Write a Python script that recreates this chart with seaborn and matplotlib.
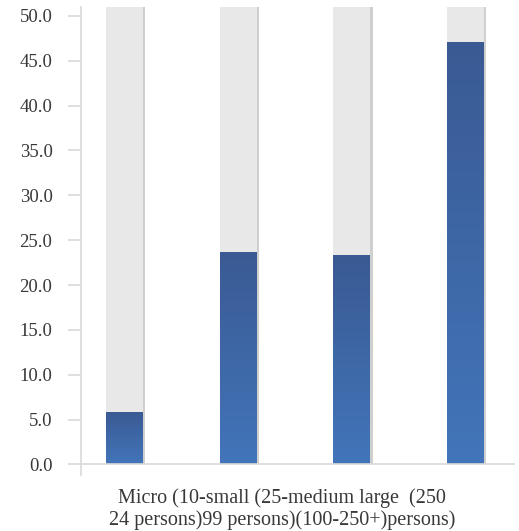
import numpy as np
import pandas as pd
import seaborn as sns
import matplotlib.pyplot as plt
from matplotlib.colors import LinearSegmentedColormap

categories = ["Micro (10-24 persons)", "small (25-99 persons)",
              "medium (100-250 persons)", "large (250+ persons)"]
values = [5.8, 23.7, 23.3, 47.1]
y_max = 51.0
yticks = [0, 5, 10, 15, 20, 25, 30, 35, 40, 45, 50]
label_line1 = "Micro (10-small (25-medium large  (250"
label_line2 = "24 persons)99 persons)(100-250+)persons)"

df = pd.DataFrame({"cat": categories, "val": values, "bg": [y_max] * len(values)})

sns.set_style("white")
plt.rcParams['font.family'] = ['Liberation Serif', 'DejaVu Serif']

fig = plt.figure(figsize=(5.19, 5.31), dpi=100)
ax = fig.add_axes([0.156, 0.105, 0.836, 0.882])

w = 0.325
# shadows on right edge
for i, v in enumerate(values):
    ax.bar(i + 0.02, y_max, width=w, color="#cfcfcf", zorder=1, linewidth=0)
sns.barplot(data=df, x="cat", y="bg", color="#e8e8e8", width=w, ax=ax,
            saturation=1, zorder=2, linewidth=0)
n_bg = len(ax.patches)
sns.barplot(data=df, x="cat", y="val", color="#3f6db0", width=w, ax=ax,
            saturation=1, zorder=3, linewidth=0)

cmap = LinearSegmentedColormap.from_list("bl", ["#4275ba", "#3a5a93"])
grad = np.linspace(0, 1, 256).reshape(-1, 1)
for p in ax.patches[n_bg:]:
    x0, y0 = p.get_x(), p.get_y()
    im = ax.imshow(grad, cmap=cmap, aspect="auto", origin="lower",
                   extent=[x0, x0 + p.get_width(), y0, y0 + p.get_height()],
                   zorder=4)
    im.set_clip_path(p)

ax.set_xlim(-0.383, 3.435)
ax.set_ylim(-1.2, y_max)
ax.set_yticks(yticks)
ax.set_yticklabels([f"{t:.1f}" for t in yticks], fontsize=13.5, color="#383838")
ax.set_xticks([])
ax.set_xlabel("")
ax.set_ylabel("")
ax.axhline(0, color="#d9d9d9", lw=1.2, zorder=5)
ax.tick_params(axis="y", direction="out", length=9.5, width=1.2, color="#d9d9d9",
               left=True, pad=11)
for s in ["top", "right", "bottom"]:
    ax.spines[s].set_visible(False)
ax.spines["left"].set_color("#d9d9d9")
ax.spines["left"].set_linewidth(1.2)

fig.text(0.543, 0.041, label_line1 + "\n" + label_line2, ha="center", va="center",
         fontsize=14.5, color="#383838", linespacing=1.15)

fig.savefig("out.png", dpi=100)
